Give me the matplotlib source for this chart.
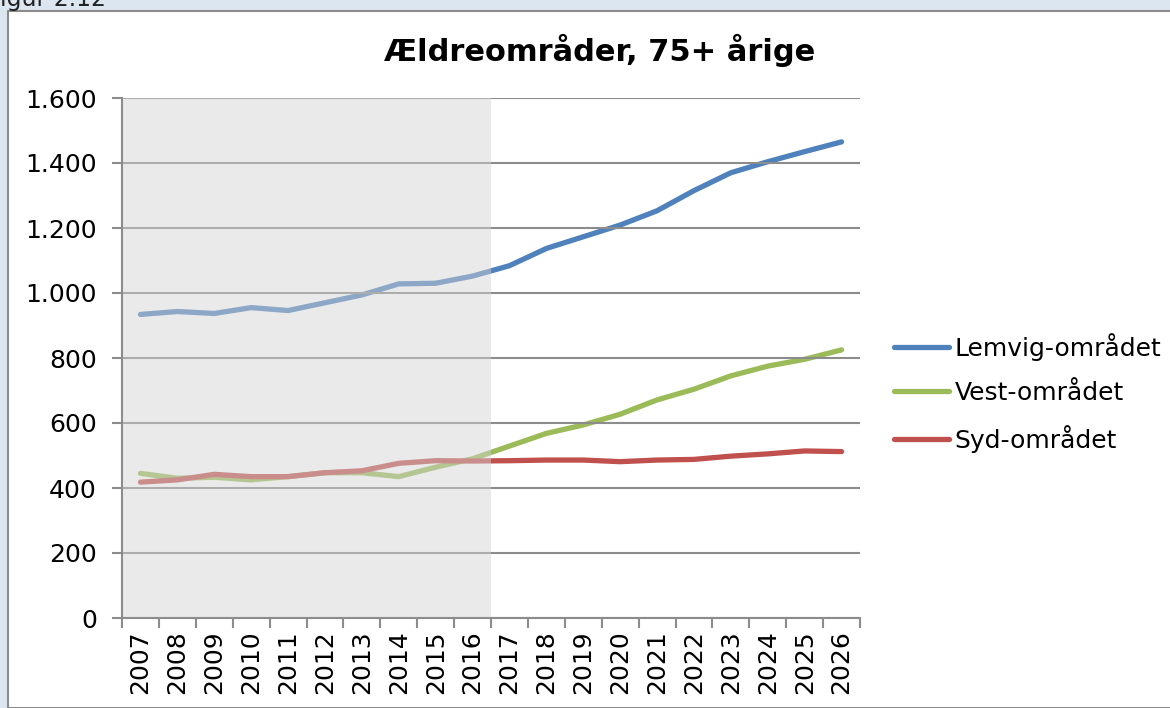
import matplotlib
matplotlib.use("Agg")
import matplotlib.pyplot as plt
from matplotlib.patches import Rectangle
from matplotlib.ticker import FuncFormatter, MultipleLocator

years = list(range(2007, 2027))
lemvig = [934, 943, 937, 955, 946, 970, 994, 1028, 1030, 1052,
          1084, 1137, 1173, 1209, 1253, 1315, 1370, 1404, 1435, 1465]
vest = [445, 430, 433, 425, 435, 447, 447, 435, 464, 490,
        529, 568, 594, 627, 671, 704, 745, 775, 796, 825]
syd = [418, 425, 442, 435, 435, 447, 453, 476, 484, 483,
       484, 486, 486, 481, 486, 488, 498, 505, 514, 512]

series = [("Lemvig-området", lemvig, "#4F81BD"),
          ("Vest-området", vest, "#9BBB59"),
          ("Syd-området", syd, "#C0504D")]

fig = plt.figure(figsize=(11.7, 7.08), dpi=100)
fig.patch.set_facecolor("#DCE6F1")

# white chart frame
fig.patches.append(Rectangle((8 / 1170, 0), 1.0, 1 - 11 / 708, transform=fig.transFigure,
                             facecolor="white", edgecolor="#8C8C8C", linewidth=1.5, zorder=-5))
fig.text(0.0, 1 - 6 / 708, "igur 2.12", fontsize=17, va="baseline", ha="left", color="#222222")

ax = fig.add_axes([122 / 1170, 1 - 618 / 708, (860 - 122) / 1170, 520 / 708])
ax.set_facecolor("none")

x = list(range(len(years)))
for name, vals, col in series:
    ax.plot(x, vals, color=col, linewidth=3.8, solid_capstyle="round", label=name, zorder=2)

# grey history overlay
ax.axvspan(-0.5, 9.5, color="#D4D4D4", alpha=0.47, linewidth=0, zorder=3)

ax.set_xlim(-0.5, len(years) - 0.5)
ax.set_ylim(0, 1600)
ax.yaxis.set_major_locator(MultipleLocator(200))
ax.yaxis.set_major_formatter(FuncFormatter(lambda v, p: f"{int(v):,}".replace(",", ".")))
ax.grid(axis="y", color="#8C8C8C", linewidth=1.5, zorder=4)
ax.set_axisbelow(False)

ax.set_xticks(x)
ax.set_xticklabels([str(y) for y in years], rotation=90, fontsize=18)
ax.set_xticks([i - 0.5 for i in range(len(years) + 1)], minor=True)
ax.tick_params(axis="x", which="major", length=0, pad=9)
ax.tick_params(axis="x", which="minor", length=7, width=1.5, color="#8C8C8C")
ax.tick_params(axis="y", labelsize=18, length=7, width=1.5, color="#8C8C8C", pad=11)

for s in ["top", "right"]:
    ax.spines[s].set_visible(False)
for s in ["left", "bottom"]:
    ax.spines[s].set_color("#8C8C8C")
    ax.spines[s].set_linewidth(1.5)
    ax.spines[s].set_zorder(5)

fig.text(600 / 1170, 1 - 50 / 708, "Ældreområder, 75+ årige", fontsize=22,
         fontweight="bold", ha="center", va="center")

leg = ax.legend(loc="center left", bbox_to_anchor=(1.015, 0.433), frameon=False,
                fontsize=18, handlelength=2.2, handletextpad=0.25, labelspacing=0.8)

fig.savefig("out.png", dpi=100)
